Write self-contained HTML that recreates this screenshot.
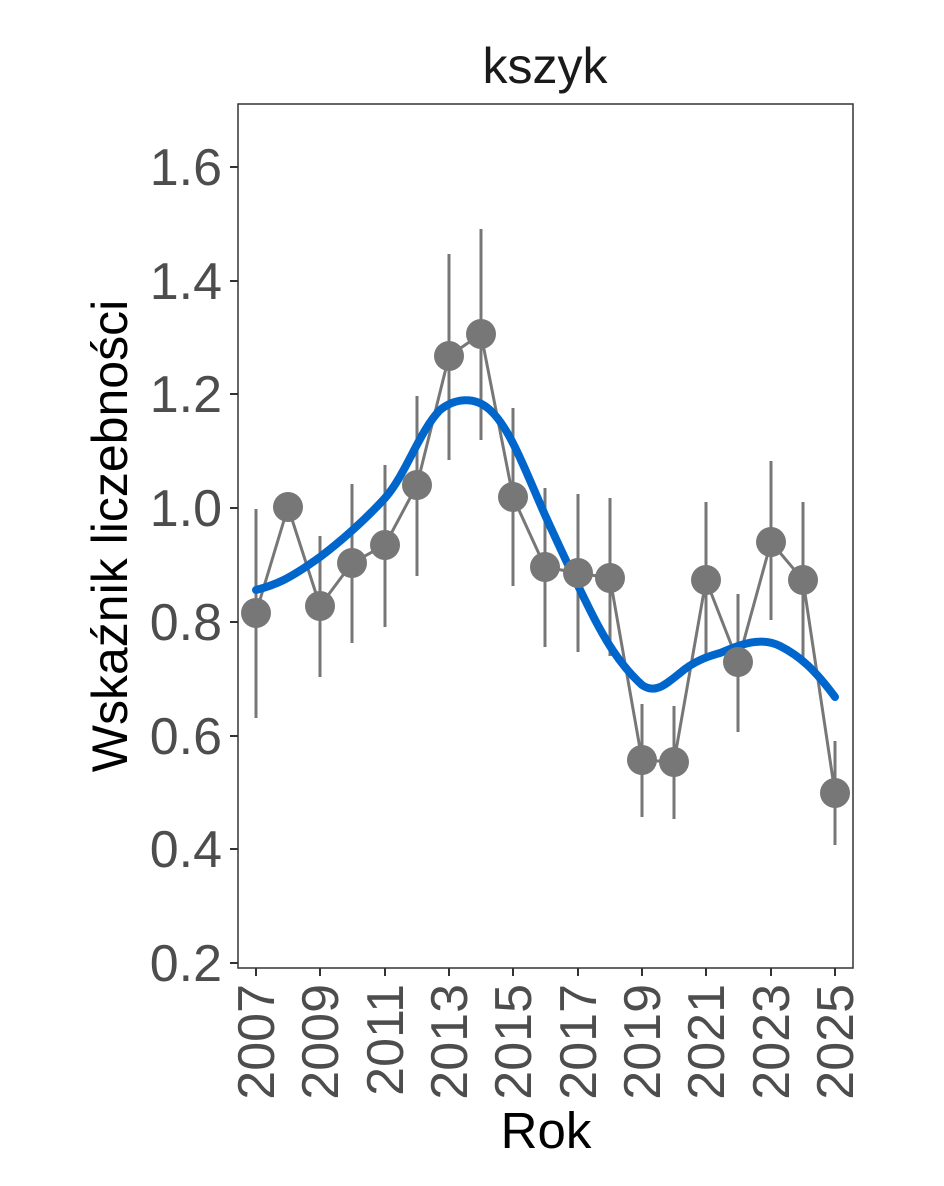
<!DOCTYPE html>
<html><head><meta charset="utf-8"><style>body{margin:0;background:#fff}</style></head>
<body>
<svg width="944" height="1181" xmlns="http://www.w3.org/2000/svg" font-family="Liberation Sans, Arial, sans-serif">
<rect width="944" height="1181" fill="#fff"/>
<text x="545" y="83" font-size="50" text-anchor="middle" fill="#1a1a1a">kszyk</text>
<rect x="238" y="104" width="615" height="864" fill="none" stroke="#333" stroke-width="1.5"/>
<g stroke="#333" stroke-width="2">
<line x1="230" y1="167" x2="238" y2="167"/><line x1="230" y1="281" x2="238" y2="281"/><line x1="230" y1="394" x2="238" y2="394"/><line x1="230" y1="508" x2="238" y2="508"/><line x1="230" y1="622" x2="238" y2="622"/><line x1="230" y1="736" x2="238" y2="736"/><line x1="230" y1="849" x2="238" y2="849"/><line x1="230" y1="963" x2="238" y2="963"/>
</g>
<g font-size="52" fill="#4d4d4d" text-anchor="end">
<text x="222" y="185">1.6</text><text x="222" y="299">1.4</text><text x="222" y="412">1.2</text><text x="222" y="526">1.0</text><text x="222" y="640">0.8</text><text x="222" y="754">0.6</text><text x="222" y="867">0.4</text><text x="222" y="981">0.2</text>
</g>
<g stroke="#333" stroke-width="2">
<line x1="256" y1="968" x2="256" y2="976"/><line x1="320" y1="968" x2="320" y2="976"/><line x1="385" y1="968" x2="385" y2="976"/><line x1="449" y1="968" x2="449" y2="976"/><line x1="513" y1="968" x2="513" y2="976"/><line x1="578" y1="968" x2="578" y2="976"/><line x1="642" y1="968" x2="642" y2="976"/><line x1="706" y1="968" x2="706" y2="976"/><line x1="771" y1="968" x2="771" y2="976"/><line x1="835" y1="968" x2="835" y2="976"/>
</g>
<g font-size="52" fill="#4d4d4d" text-anchor="end">
<text transform="translate(274,984) rotate(-90)">2007</text>
<text transform="translate(338,984) rotate(-90)">2009</text>
<text transform="translate(403,984) rotate(-90)">2011</text>
<text transform="translate(467,984) rotate(-90)">2013</text>
<text transform="translate(531,984) rotate(-90)">2015</text>
<text transform="translate(596,984) rotate(-90)">2017</text>
<text transform="translate(660,984) rotate(-90)">2019</text>
<text transform="translate(724,984) rotate(-90)">2021</text>
<text transform="translate(789,984) rotate(-90)">2023</text>
<text transform="translate(853,984) rotate(-90)">2025</text>
</g>
<text x="546" y="1148" font-size="51" text-anchor="middle" fill="#000">Rok</text>
<text transform="translate(127,536) rotate(-90)" font-size="50" text-anchor="middle" fill="#000">Wskaźnik liczebności</text>
<g stroke="#777" stroke-width="3">
<line x1="256" y1="509" x2="256" y2="718"/>
<line x1="320" y1="536" x2="320" y2="677"/>
<line x1="352" y1="484" x2="352" y2="643"/>
<line x1="385" y1="465" x2="385" y2="627"/>
<line x1="417" y1="396" x2="417" y2="576"/>
<line x1="449" y1="254" x2="449" y2="460"/>
<line x1="481" y1="229" x2="481" y2="440"/>
<line x1="513" y1="408" x2="513" y2="586"/>
<line x1="545" y1="488" x2="545" y2="647"/>
<line x1="578" y1="494" x2="578" y2="652"/>
<line x1="610" y1="498" x2="610" y2="656"/>
<line x1="642" y1="704" x2="642" y2="817"/>
<line x1="674" y1="706" x2="674" y2="819"/>
<line x1="706" y1="502" x2="706" y2="660"/>
<line x1="738" y1="594" x2="738" y2="732"/>
<line x1="771" y1="461" x2="771" y2="620"/>
<line x1="803" y1="502" x2="803" y2="660"/>
<line x1="835" y1="741" x2="835" y2="845"/>
</g>
<polyline fill="none" stroke="#777" stroke-width="3" points="256,613 288,507 320,606 352,563 385,545 417,485 449,356 481,334 513,497 545,567 578,573 610,578 642,760 674,762 706,580 738,662 771,542 803,580 835,793"/>
<path fill="none" stroke="#0066cc" stroke-width="8" stroke-linecap="round" d="M256,590 C275,585 288,580 320,557 C340,542 365,520 385,498 C405,476 420,430 440,410 C455,398 475,396 490,410 C510,428 525,470 545,515 C560,548 570,570 590,610 C605,640 620,665 642,685 C655,694 665,685 680,673 C695,660 710,656 720,653 C740,645 760,636 780,646 C800,656 815,670 835,697"/>
<g fill="#777">
<circle cx="256" cy="613" r="15"/><circle cx="288" cy="507" r="15"/><circle cx="320" cy="606" r="15"/><circle cx="352" cy="563" r="15"/><circle cx="385" cy="545" r="15"/><circle cx="417" cy="485" r="15"/><circle cx="449" cy="356" r="15"/><circle cx="481" cy="334" r="15"/><circle cx="513" cy="497" r="15"/><circle cx="545" cy="567" r="15"/><circle cx="578" cy="573" r="15"/><circle cx="610" cy="578" r="15"/><circle cx="642" cy="760" r="15"/><circle cx="674" cy="762" r="15"/><circle cx="706" cy="580" r="15"/><circle cx="738" cy="662" r="15"/><circle cx="771" cy="542" r="15"/><circle cx="803" cy="580" r="15"/><circle cx="835" cy="793" r="15"/>
</g>
</svg>
</body></html>
